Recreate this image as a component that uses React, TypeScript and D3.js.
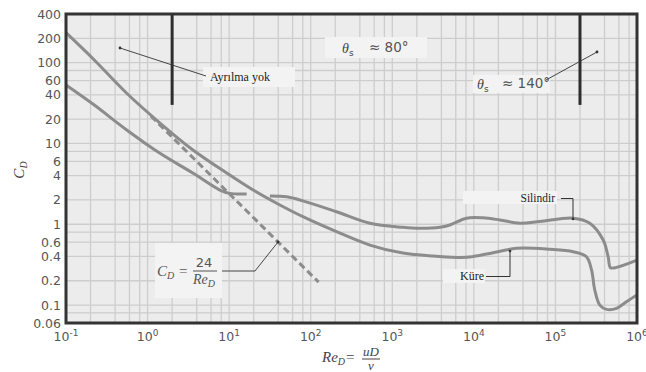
import React from "react";
import * as d3 from "d3";

// ---------- data ----------
const xTickValues = [0.1, 1, 10, 100, 1e3, 1e4, 1e5, 1e6];
const xTickExponents = ["-1", "0", "1", "2", "3", "4", "5", "6"];
const yTickValues = [400, 200, 100, 60, 40, 20, 10, 6, 4, 2, 1, 0.6, 0.4, 0.2, 0.1, 0.06];
const yTickLabels = ["400", "200", "100", "60", "40", "20", "10", "6", "4", "2", "1", "0.6", "0.4", "0.2", "0.1", "0.06"];
const gridMantissas = [1, 2, 4, 6, 8];

// Sphere (Küre)
const sphereRe = [0.1, 0.216, 0.555, 1.42, 3.6, 9.32, 19.7, 38.2, 80.2, 207, 531, 1349, 3170, 8130, 17200, 33400, 85300, 165000, 240000, 277000, 304000, 350000, 423000, 561000, 743000, 1000000];
const sphereCd = [235, 111, 41.8, 17.9, 8.3, 4.31, 2.65, 1.82, 1.24, 0.81, 0.553, 0.44, 0.405, 0.39, 0.445, 0.504, 0.49, 0.457, 0.396, 0.272, 0.153, 0.1, 0.0885, 0.091, 0.11, 0.133];

// Cylinder (Silindir), low-Re part
const cylLowRe = [0.1, 0.216, 0.555, 1.42, 3.63, 7.71, 10.2, 16.4];
const cylLowCd = [52.9, 30.5, 14.7, 7.55, 4.27, 2.65, 2.41, 2.37];

// Cylinder (Silindir), high-Re part
const cylHighRe = [31.6, 50.7, 80.2, 207, 531, 1349, 2180, 3830, 5080, 8130, 13000, 20800, 36600, 64400, 165000, 264000, 385000, 443000, 473000, 561000, 1000000];
const cylHighCd = [2.24, 2.19, 1.95, 1.43, 1.03, 0.916, 0.89, 0.916, 0.98, 1.19, 1.2, 1.13, 1.03, 1.08, 1.19, 1.03, 0.638, 0.396, 0.29, 0.293, 0.36];

// Stokes line C_D = 24/Re (endpoints)
const stokesRe = [1.1, 125];
const stokesCd = [21.8, 0.192];

// separation markers
const sepRe = [2, 2e5];
const sepCdTop = 400;
const sepCdBottom = 30;

// ---------- chart ----------
const W = 646;
const H = 372;
const SERIF = "Liberation Serif, DejaVu Serif, serif";
const SANS = "DejaVu Sans, sans-serif";

export default function App() {
  const x = d3.scaleLog().domain([0.1, 1e6]).range([66, 637]);
  const y = d3.scaleLog().domain([0.06, 400]).range([323, 14]);

  const line = d3
    .line<[number, number]>()
    .x((d) => x(d[0]))
    .y((d) => y(d[1]))
    .curve(d3.curveCatmullRom.alpha(0.5));
  const straight = d3
    .line<[number, number]>()
    .x((d) => x(d[0]))
    .y((d) => y(d[1]));

  const zip = (a: number[], b: number[]) => a.map((v, i) => [v, b[i]] as [number, number]);

  const xGrid: number[] = [];
  for (let k = -1; k <= 5; k++) for (const m of gridMantissas) xGrid.push(m * Math.pow(10, k));
  const yGrid: number[] = [];
  for (let k = -2; k <= 2; k++)
    for (const m of gridMantissas) {
      const v = m * Math.pow(10, k);
      if (v >= 0.06 && v <= 400) yGrid.push(v);
    }

  const [x0, x1] = x.range();
  const [y0, y1] = y.range();
  const curveColor = "#8c8c8c";
  const boxFill = "#f3f3f3";

  return (
    <div style={{ position: "absolute", left: 0, top: 0 }}>
      <svg width={W} height={H} style={{ display: "block", background: "#fff" }}>
        {/* plot background */}
        <rect x={x0} y={y1} width={x1 - x0} height={y0 - y1} fill="#ececec" />
        {/* grid */}
        {xGrid.map((v, i) => (
          <line key={"xg" + i} x1={x(v)} x2={x(v)} y1={y1} y2={y0} stroke="#cdcdcd" strokeWidth={1.3} />
        ))}
        {yGrid.map((v, i) => (
          <line key={"yg" + i} x1={x0} x2={x1} y1={y(v)} y2={y(v)} stroke="#cdcdcd" strokeWidth={1.3} />
        ))}

        {/* annotation boxes (cover grid) */}
        <rect x={203} y={67} width={92} height={20} fill={boxFill} />
        <rect x={325} y={37} width={102} height={21} fill={boxFill} />
        <rect x={473} y={75} width={77} height={18} fill={boxFill} />
        <rect x={463} y={191} width={94} height={13} fill={boxFill} />
        <rect x={443} y={269} width={42} height={14} fill={boxFill} />
        <rect x={155} y={243} width={67} height={55} fill={boxFill} />

        {/* separation markers */}
        {sepRe.map((r, i) => (
          <line key={"sep" + i} x1={x(r)} x2={x(r)} y1={y(sepCdTop)} y2={y(sepCdBottom)} stroke="#2e2e2e" strokeWidth={3} />
        ))}

        {/* curves */}
        <path d={straight(zip(stokesRe, stokesCd)) || ""} fill="none" stroke={curveColor} strokeWidth={3} strokeDasharray="7,4" />
        <path d={line(zip(cylLowRe, cylLowCd)) || ""} fill="none" stroke={curveColor} strokeWidth={3} />
        <path d={line(zip(cylHighRe, cylHighCd)) || ""} fill="none" stroke={curveColor} strokeWidth={3} />
        <path d={line(zip(sphereRe, sphereCd)) || ""} fill="none" stroke={curveColor} strokeWidth={3} />

        {/* frame */}
        <rect x={x0} y={y1} width={x1 - x0} height={y0 - y1} fill="none" stroke="#333" strokeWidth={3} />

        {/* y ticks */}
        {yTickValues.map((v, i) => (
          <text key={"yt" + i} x={61} y={y(v)} textAnchor="end" dominantBaseline="central" fontFamily={SANS} fontSize={12.5} fill="#555">
            {yTickLabels[i]}
          </text>
        ))}
        {/* x ticks */}
        {xTickValues.map((v, i) => (
          <text key={"xt" + i} x={x(v)} y={341} textAnchor="middle" fontFamily={SANS} fontSize={12.5} fill="#555">
            10
            <tspan dy={-5} fontSize={9}>
              {xTickExponents[i]}
            </tspan>
          </text>
        ))}

        {/* axis titles */}
        <text transform="translate(24,170) rotate(-90)" textAnchor="middle" fontFamily={SERIF} fontStyle="italic" fontSize={15} fill="#444">
          C<tspan dy={3} fontSize={10}>D</tspan>
        </text>
        <g fontFamily={SERIF} fill="#444">
          <text x={322} y={362} fontStyle="italic" fontSize={15}>
            Re<tspan dy={3} fontSize={10}>D</tspan>
          </text>
          <text x={346} y={362} fontSize={15}>=</text>
          <text x={371} y={356} textAnchor="middle" fontStyle="italic" fontSize={13}>uD</text>
          <line x1={362} x2={380} y1={359} y2={359} stroke="#444" strokeWidth={1} />
          <text x={371} y={370} textAnchor="middle" fontStyle="italic" fontSize={13}>ν</text>
        </g>

        {/* Ayrılma yok */}
        <line x1={120} y1={48} x2={206} y2={76} stroke="#333" strokeWidth={0.9} />
        <circle cx={120} cy={48} r={1.4} fill="#333" />
        <text x={210} y={81} fontFamily={SERIF} fontSize={12} fill="#222">Ayrılma yok</text>

        {/* theta 80 */}
        <text x={342} y={53} fontFamily={SERIF} fontStyle="italic" fontSize={14} fill="#444">
          θ<tspan dy={3} fontStyle="normal" fontFamily={SANS} fontSize={9}>s</tspan>
        </text>
        <text x={369} y={52} fontFamily={SANS} fontSize={13.5} fill="#555">≈ 80°</text>

        {/* theta 140 */}
        <text x={477} y={89} fontFamily={SERIF} fontStyle="italic" fontSize={14} fill="#444">
          θ<tspan dy={3} fontStyle="normal" fontFamily={SANS} fontSize={9}>s</tspan>
        </text>
        <text x={502} y={88} fontFamily={SANS} fontSize={13.5} fill="#555">≈ 140°</text>
        <line x1={546} y1={80} x2={597} y2={52} stroke="#333" strokeWidth={0.9} />
        <circle cx={597} cy={52} r={1.4} fill="#333" />

        {/* Silindir */}
        <text x={555} y={201.5} textAnchor="end" fontFamily={SERIF} fontSize={11.5} fill="#222">Silindir</text>
        <polyline points="561,198.5 573,198.5 573,219" fill="none" stroke="#333" strokeWidth={1} />
        <circle cx={573} cy={219} r={1.3} fill="#333" />

        {/* Küre */}
        <text x={484} y={280} textAnchor="end" fontFamily={SERIF} fontSize={12} fill="#222">Küre</text>
        <polyline points="486,276.5 510,276.5 510,251" fill="none" stroke="#333" strokeWidth={1} />
        <circle cx={510} cy={251} r={1.3} fill="#333" />

        {/* C_D = 24/Re_D */}
        <g fill="#555">
          <text x={157} y={276} fontFamily={SERIF} fontStyle="italic" fontSize={15}>
            C<tspan dy={3} fontSize={10}>D</tspan>
          </text>
          <text x={179} y={276} fontFamily={SERIF} fontSize={15}>=</text>
          <text x={204} y={267} textAnchor="middle" fontFamily={SANS} fontSize={13}>24</text>
          <line x1={193} x2={217} y1={271} y2={271} stroke="#555" strokeWidth={1} />
          <text x={193} y={284} fontFamily={SERIF} fontStyle="italic" fontSize={14}>
            Re<tspan dy={3} fontSize={10}>D</tspan>
          </text>
        </g>
        <polyline points="222,271 255,271 278,242" fill="none" stroke="#333" strokeWidth={0.9} />
        <circle cx={278} cy={242} r={1.4} fill="#333" />
      </svg>
    </div>
  );
}
